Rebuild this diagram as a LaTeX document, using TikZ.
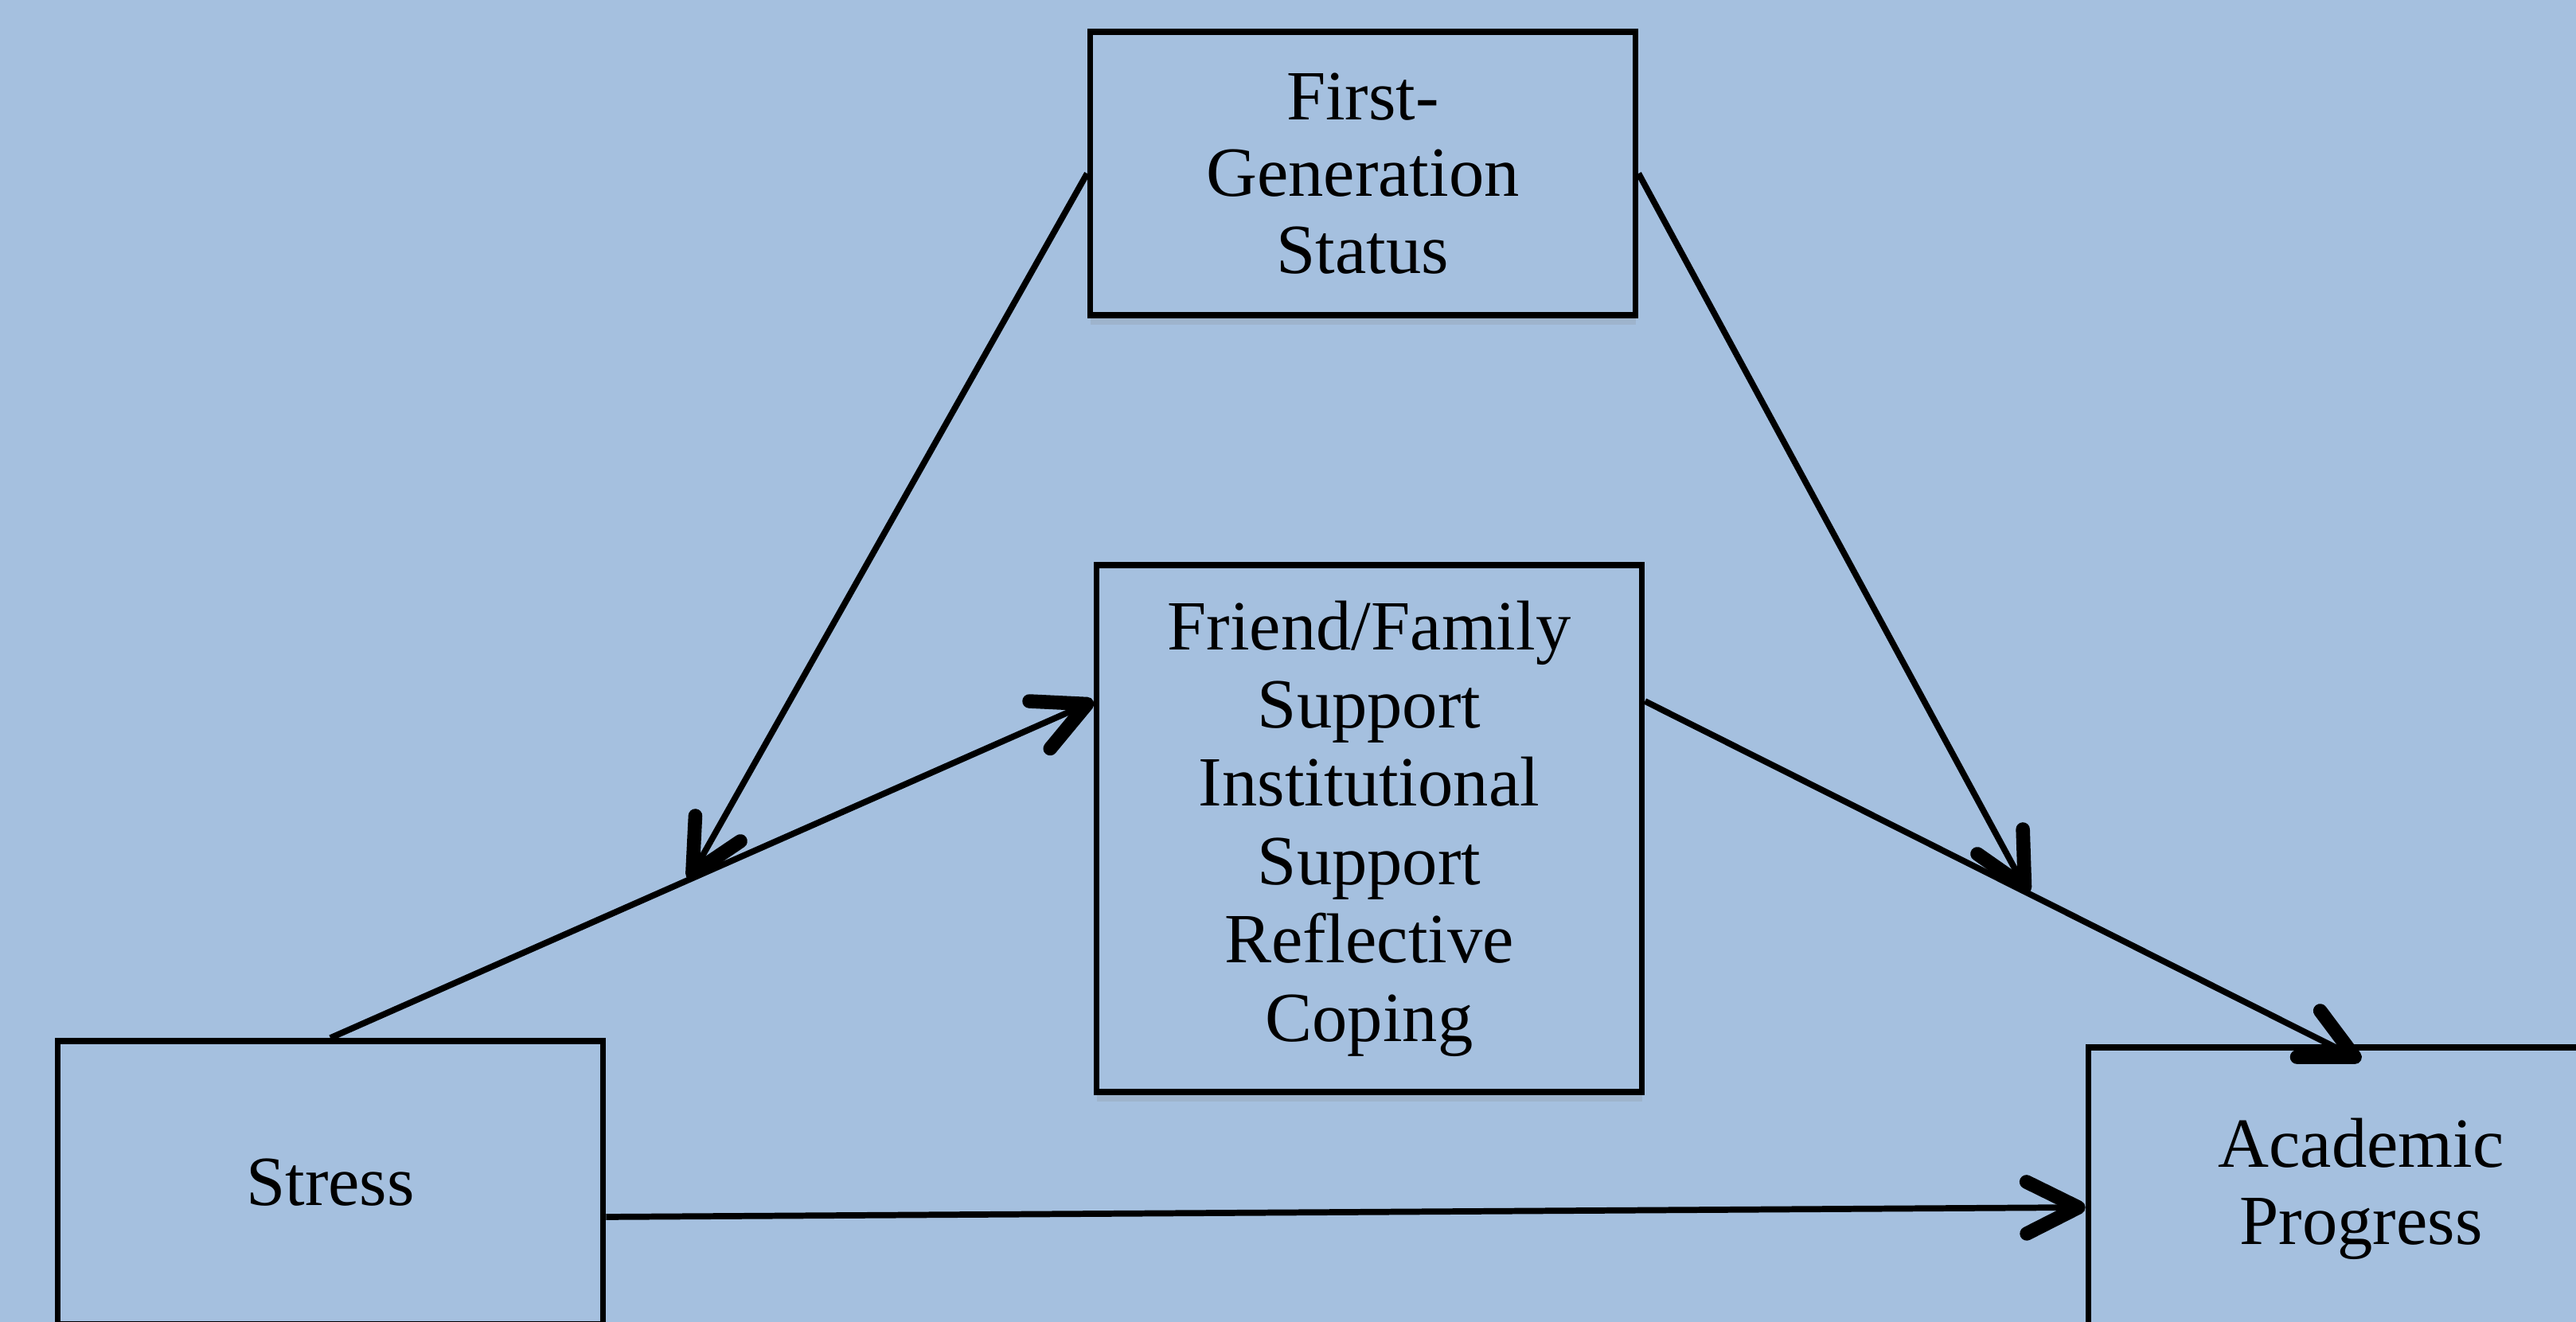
\documentclass[tikz,border=0pt]{standalone}
\usepackage{fontspec}
\setmainfont{Liberation Serif}
\usepackage{tikz}
\usetikzlibrary{arrows.meta,positioning,shadows}
\definecolor{panelblue}{RGB}{165,192,223}
\tikzset{
  varbox/.style={draw=black,fill=panelblue,line width=2.2pt,
    minimum width=6.85cm,minimum height=3.56cm,align=center,
    font=\fontsize{25.2}{27.5}\selectfont,
    drop shadow={shadow xshift=0pt,shadow yshift=-1.2mm,opacity=0.18}}
}

\begin{document}
\begin{tikzpicture}[
  arrow/.style={-{Straight Barb[length=6.5mm,width=6.5mm,line width=5pt,round]},line width=2.2pt,black}
]
  \useasboundingbox (0,0) rectangle (32.36,16.61);
  \fill[panelblue] (0,0) rectangle (32.36,16.61);
  \node[varbox] (fgs) at (17.12,14.43) {First-\\Generation\\Status};
  \node[varbox,minimum height=6.62cm,font=\fontsize{25.2}{28}\selectfont] (sup) at (17.20,6.20)
    {Friend/Family\\Support\\Institutional\\Support\\Reflective\\Coping};
  \node[varbox] (str) at (4.15,1.75) {Stress};
  \node[varbox] (acp) at (29.66,1.67) {Academic\\Progress};
  % paths through the support box
  \draw[arrow] (str.north) -- coordinate[pos=0.47] (modA) ([yshift=1.6cm]sup.west);
  \draw[arrow] ([yshift=1.6cm]sup.east) -- coordinate[pos=0.535] (modB) ([yshift=-2mm]acp.north);
  \draw[arrow] ([yshift=-4.3mm]str.east) -- ([yshift=-2.3mm]acp.west);
  % moderation by first-generation status
  \draw[arrow] (fgs.west) -- (modA);
  \draw[arrow] (fgs.east) -- (modB);
\end{tikzpicture}
\end{document}
